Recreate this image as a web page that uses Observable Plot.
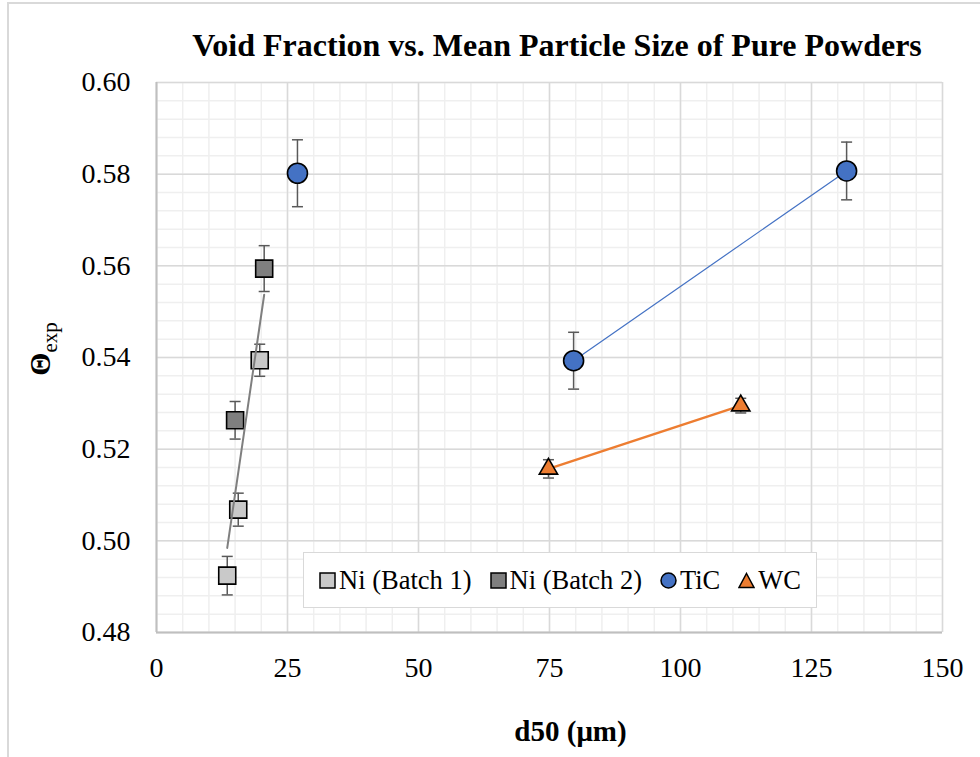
<!DOCTYPE html>
<html>
<head>
<meta charset="utf-8">
<script src="https://cdn.jsdelivr.net/npm/d3@7"></script>
<script src="https://cdn.jsdelivr.net/npm/@observablehq/plot@0.6"></script>
<style>
  html, body { margin: 0; padding: 0; background: #fff; }
  #wrap { position: relative; width: 980px; height: 757px; overflow: hidden; background: #fff;
          font-family: "Liberation Serif", "Times New Roman", serif; }
  #frame { position: absolute; left: 7px; top: 2px; right: -5px; bottom: -5px;
           border-left: 2px solid #d9d9d9; border-top: 2px solid #d9d9d9; pointer-events: none; }
  #title { height: 62px; line-height: 38px; padding-top: 26px; text-align: center; font-weight: bold; font-size: 32px;
           padding-left: 134px; box-sizing: border-box; white-space: nowrap; }
  #ylabel { position: absolute; left: 40px; top: 349px; transform: translate(-50%, -50%) rotate(-90deg);
            white-space: nowrap; }
  #ylabel .th { font-weight: bold; font-size: 30px; }
  #ylabel .sub { font-size: 21px; position: relative; top: 7px; }
  #legend { position: absolute; left: 303px; top: 552px; width: 514px; height: 56px; box-sizing: border-box;
            background: #fff; border: 1.5px solid #d9d9d9; display: flex; align-items: center;
            justify-content: center; font-size: 26.5px; gap: 0;
            font-family: "Liberation Serif", "Times New Roman", serif; }
  #legend .item { display: flex; align-items: center; margin: 0 9px; }
  #legend svg { margin-right: 3px; }
  #chart svg text { font-family: "Liberation Serif", "Times New Roman", serif; }
</style>
</head>
<body>
<div id="wrap">
  <div id="title">Void Fraction vs. Mean Particle Size of Pure Powders</div>
  <div id="chart"></div>
  <div id="ylabel"><span class="th">Θ</span><span class="sub">exp</span></div>
  <div id="legend"></div>
  <div id="frame"></div>
</div>
<script>
// ---- data ----
const seriesNames = ["Ni (Batch 1)", "Ni (Batch 2)", "TiC", "WC"];
const seriesColors = ["#c9c9c9", "#7f7f7f", "#4472c4", "#ed7d31"];
const seriesSymbols = ["square", "square", "circle", "triangle"];

const ni1X = [13.5, 15.6, 19.7];
const ni1Y = [0.4924, 0.5068, 0.5394];
const ni1Err = [0.0042, 0.0036, 0.0035];

const ni2X = [15.0, 20.55];
const ni2Y = [0.5263, 0.5594];
const ni2Err = [0.0041, 0.0050];

const ticX = [26.9, 79.6, 131.7];
const ticY = [0.5802, 0.5393, 0.5807];
const ticErr = [0.0073, 0.0062, 0.0063];
const ticConnected = [false, true, true];

const wcX = [74.8, 111.5];
const wcY = [0.5157, 0.5295];
const wcErr = [0.0020, 0.0016];

const xTicks = [0, 25, 50, 75, 100, 125, 150];
const yTicks = [0.48, 0.50, 0.52, 0.54, 0.56, 0.58, 0.60];

// ---- build tables ----
function rows(name, xs, ys, es, extra) {
  return xs.map((x, i) => ({series: name, x, y: ys[i], e: es[i], link: extra ? extra[i] : true}));
}
const ni1 = rows("Ni (Batch 1)", ni1X, ni1Y, ni1Err);
const ni2 = rows("Ni (Batch 2)", ni2X, ni2Y, ni2Err);
const tic = rows("TiC", ticX, ticY, ticErr, ticConnected);
const wc = rows("WC", wcX, wcY, wcErr);
const all = [...ni1, ...ni2, ...tic, ...wc];
const niAll = [...ni1, ...ni2];

const xMinor = d3.range(0, 150.001, 5);
const yMinor = d3.range(0, 31).map(i => 0.48 + i * 0.004);

const capSymbol = { draw(ctx) { ctx.moveTo(-5.5, 0); ctx.lineTo(5.5, 0); } };

const chart = Plot.plot({
  width: 980,
  height: 695,
  marginLeft: 156,
  marginRight: 38,
  marginTop: 20,
  marginBottom: 125,
  style: { fontFamily: "'Liberation Serif', 'Times New Roman', serif", fontSize: "28px", color: "#000", background: "transparent", overflow: "visible" },
  x: { domain: [0, 150] },
  y: { domain: [0.48, 0.60] },
  marks: [
    Plot.ruleX(xMinor, { stroke: "#efefef", strokeWidth: 1.5 }),
    Plot.ruleY(yMinor, { stroke: "#efefef", strokeWidth: 1.5 }),
    Plot.ruleX(xTicks, { stroke: "#d9d9d9", strokeWidth: 1.5 }),
    Plot.ruleY(yTicks, { stroke: "#d9d9d9", strokeWidth: 1.5 }),
    Plot.ruleX([0], { stroke: "#bfbfbf", strokeWidth: 2 }),
    Plot.ruleY([0.48], { stroke: "#bfbfbf", strokeWidth: 2 }),
    Plot.axisX({ ticks: xTicks, tickSize: 0, tickPadding: 25, label: null, tickFormat: d => String(d) }),
    Plot.axisY({ ticks: yTicks, tickSize: 0, tickPadding: 26, label: null, tickFormat: ".2f" }),
    Plot.text(["d50 (μm)"], { frameAnchor: "bottom", dy: 99, dx: 21, fontSize: 29, fontWeight: "bold", lineAnchor: "middle" }),
    // connecting lines
    Plot.line(tic.filter(d => d.link), { x: "x", y: "y", stroke: seriesColors[2], strokeWidth: 1.2 }),
    Plot.line(wc, { x: "x", y: "y", stroke: seriesColors[3], strokeWidth: 2.5 }),
    // error bars
    Plot.ruleX(all, { x: "x", y1: d => d.y - d.e, y2: d => d.y + d.e, stroke: "#595959", strokeWidth: 1.5 }),
    Plot.dot(all, { x: "x", y: d => d.y + d.e, symbol: capSymbol, r: 5, fill: "none", stroke: "#595959", strokeWidth: 1.5 }),
    Plot.dot(all, { x: "x", y: d => d.y - d.e, symbol: capSymbol, r: 5, fill: "none", stroke: "#595959", strokeWidth: 1.5 }),
    // markers
    Plot.dot(ni1, { x: "x", y: "y", symbol: "square", r: 9.6, fill: seriesColors[0], stroke: "#000", strokeWidth: 1.6 }),
    Plot.dot(ni2, { x: "x", y: "y", symbol: "square", r: 9.6, fill: seriesColors[1], stroke: "#000", strokeWidth: 1.6 }),
    Plot.dot(tic, { x: "x", y: "y", symbol: "circle", r: 10, fill: seriesColors[2], stroke: "#000", strokeWidth: 1.6 }),
    Plot.dot(wc, { x: "x", y: "y", symbol: "triangle", r: 6.8, fill: seriesColors[3], stroke: "#000", strokeWidth: 1.6 }),
    // Ni trendline (linear regression through all Ni points)
    Plot.linearRegressionY(niAll, { x: "x", y: "y", stroke: "#7f7f7f", strokeWidth: 2, ci: 0 })
  ]
});
document.getElementById("chart").appendChild(chart);

// legend
const legend = document.getElementById("legend");
seriesNames.forEach((name, i) => {
  const item = document.createElement("div");
  item.className = "item";
  const s = d3.create("svg").attr("width", 17).attr("height", 17);
  const sym = seriesSymbols[i];
  if (sym === "square") {
    s.append("rect").attr("x", 1).attr("y", 1).attr("width", 15).attr("height", 15)
      .attr("fill", seriesColors[i]).attr("stroke", "#000").attr("stroke-width", 1.5);
  } else if (sym === "circle") {
    s.append("circle").attr("cx", 8.5).attr("cy", 8.5).attr("r", 7.5)
      .attr("fill", seriesColors[i]).attr("stroke", "#000").attr("stroke-width", 1.5);
  } else {
    s.append("path").attr("d", "M8.5,1.5L16,15.5L1,15.5Z")
      .attr("fill", seriesColors[i]).attr("stroke", "#000").attr("stroke-width", 1.5);
  }
  item.appendChild(s.node());
  const t = document.createElement("span");
  t.textContent = name;
  item.appendChild(t);
  legend.appendChild(item);
});
</script>
</body>
</html>
